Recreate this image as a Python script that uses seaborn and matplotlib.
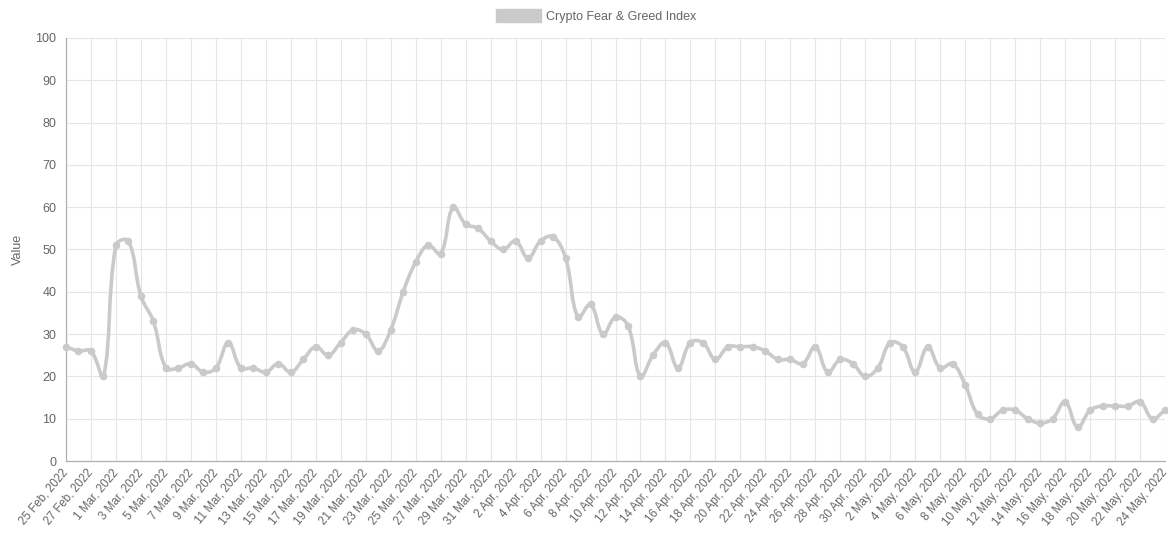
import matplotlib
matplotlib.use("Agg")
import matplotlib.pyplot as plt
import matplotlib.transforms as mtransforms
import numpy as np
import pandas as pd
import seaborn as sns
from matplotlib.path import Path
from matplotlib.patches import PathPatch, Patch

# daily values, 25 Feb 2022 .. 24 May 2022
dates = pd.date_range("2022-02-25", "2022-05-24", freq="D")
values = [27, 26, 26, 20,
          51, 52, 39, 33, 22, 22, 23, 21, 22, 28, 22, 22, 21, 23, 21, 24,
          27, 25, 28, 31, 30, 26, 31, 40, 47, 51, 49, 60, 56, 55, 52,
          50, 52, 48, 52, 53, 48, 34, 37, 30, 34, 32, 20, 25, 28, 22, 28,
          28, 24, 27, 27, 27, 26, 24, 24, 23, 27, 21, 24, 23, 20,
          22, 28, 27, 21, 27, 22, 23, 18, 11, 10, 12, 12, 10, 9, 10, 14,
          8, 12, 13, 13, 13, 14, 10, 12]
labels = [f"{d.day} {d.strftime('%b')}, {d.year}" for d in dates]
series_name = "Crypto Fear & Greed Index"

line_color = "#c9cacc"
text_color = "#666666"
grid_color = "#e6e6e6"

sns.set_style("white")
plt.rcParams["font.family"] = ["Liberation Sans", "DejaVu Sans"]

df = pd.DataFrame({"idx": np.arange(len(values)), "value": values})

fig = plt.figure(figsize=(11.68, 5.33), dpi=100)
ax = fig.add_axes([66 / 1168, 1 - 461 / 533, 1099 / 1168, 423 / 533])
ax.set_xlim(0, len(values) - 1)
ax.set_ylim(0, 100)


def smooth_path(xs, ys, tension=0.4, sx=12.49, sy=4.23):
    # chart.js style bezier control points (distances in pixel units)
    n = len(xs)
    px, py = np.array(xs, float) * sx, np.array(ys, float) * sy
    cp_prev, cp_next = [], []
    for i in range(n):
        p = max(i - 1, 0)
        q = min(i + 1, n - 1)
        d01 = np.hypot(px[i] - px[p], py[i] - py[p])
        d12 = np.hypot(px[q] - px[i], py[q] - py[i])
        tot = d01 + d12
        s01 = d01 / tot if tot else 0
        s12 = d12 / tot if tot else 0
        fa, fb = tension * s01, tension * s12
        dx, dy = px[q] - px[p], py[q] - py[p]
        cp_prev.append(((px[i] - fa * dx) / sx, (py[i] - fa * dy) / sy))
        cp_next.append(((px[i] + fb * dx) / sx, (py[i] + fb * dy) / sy))
    verts = [(xs[0], ys[0])]
    codes = [Path.MOVETO]
    for i in range(1, n):
        verts += [cp_next[i - 1], cp_prev[i], (xs[i], ys[i])]
        codes += [Path.CURVE4] * 3
    return Path(verts, codes)


path = smooth_path(df["idx"].tolist(), df["value"].tolist())
ax.add_patch(PathPatch(path, facecolor="none", edgecolor=line_color,
                       lw=2.6, capstyle="round", joinstyle="round", zorder=3,
                       clip_on=False))
sns.scatterplot(data=df, x="idx", y="value", ax=ax, color=line_color,
                s=30, edgecolor=line_color, linewidth=0, zorder=4, legend=False,
                clip_on=False)

ax.set_xticks(np.arange(0, len(values), 2))
ax.set_xticklabels(labels[::2], rotation=50, ha="right", va="center",
                   rotation_mode="anchor", fontsize=8.4, color=text_color)
shift = mtransforms.ScaledTranslation(-3 / 100, -4 / 100, fig.dpi_scale_trans)
for lab in ax.get_xticklabels():
    lab.set_transform(lab.get_transform() + shift)
ax.set_yticks(np.arange(0, 101, 10))
ax.tick_params(axis="y", labelsize=9, labelcolor=text_color, length=5,
               color=grid_color, pad=2)
ax.tick_params(axis="x", length=5, color=grid_color, pad=2)
ax.grid(True, color=grid_color, lw=0.8)
ax.set_axisbelow(True)
for s in ["top", "right"]:
    ax.spines[s].set_visible(False)
for s in ["left", "bottom"]:
    ax.spines[s].set_color("#b0b0b0")
    ax.spines[s].set_linewidth(0.9)
ax.set_xlabel("")
ax.set_ylabel("Value", fontsize=9, color=text_color, labelpad=8)

handle = Patch(facecolor=line_color, edgecolor=line_color)
fig.legend([handle], [series_name], loc="upper center", bbox_to_anchor=(0.51, 1.005),
           frameon=False, fontsize=9, labelcolor=text_color, handlelength=3.6,
           handleheight=1.3, handletextpad=0.4)

fig.savefig("out.png", dpi=100)
